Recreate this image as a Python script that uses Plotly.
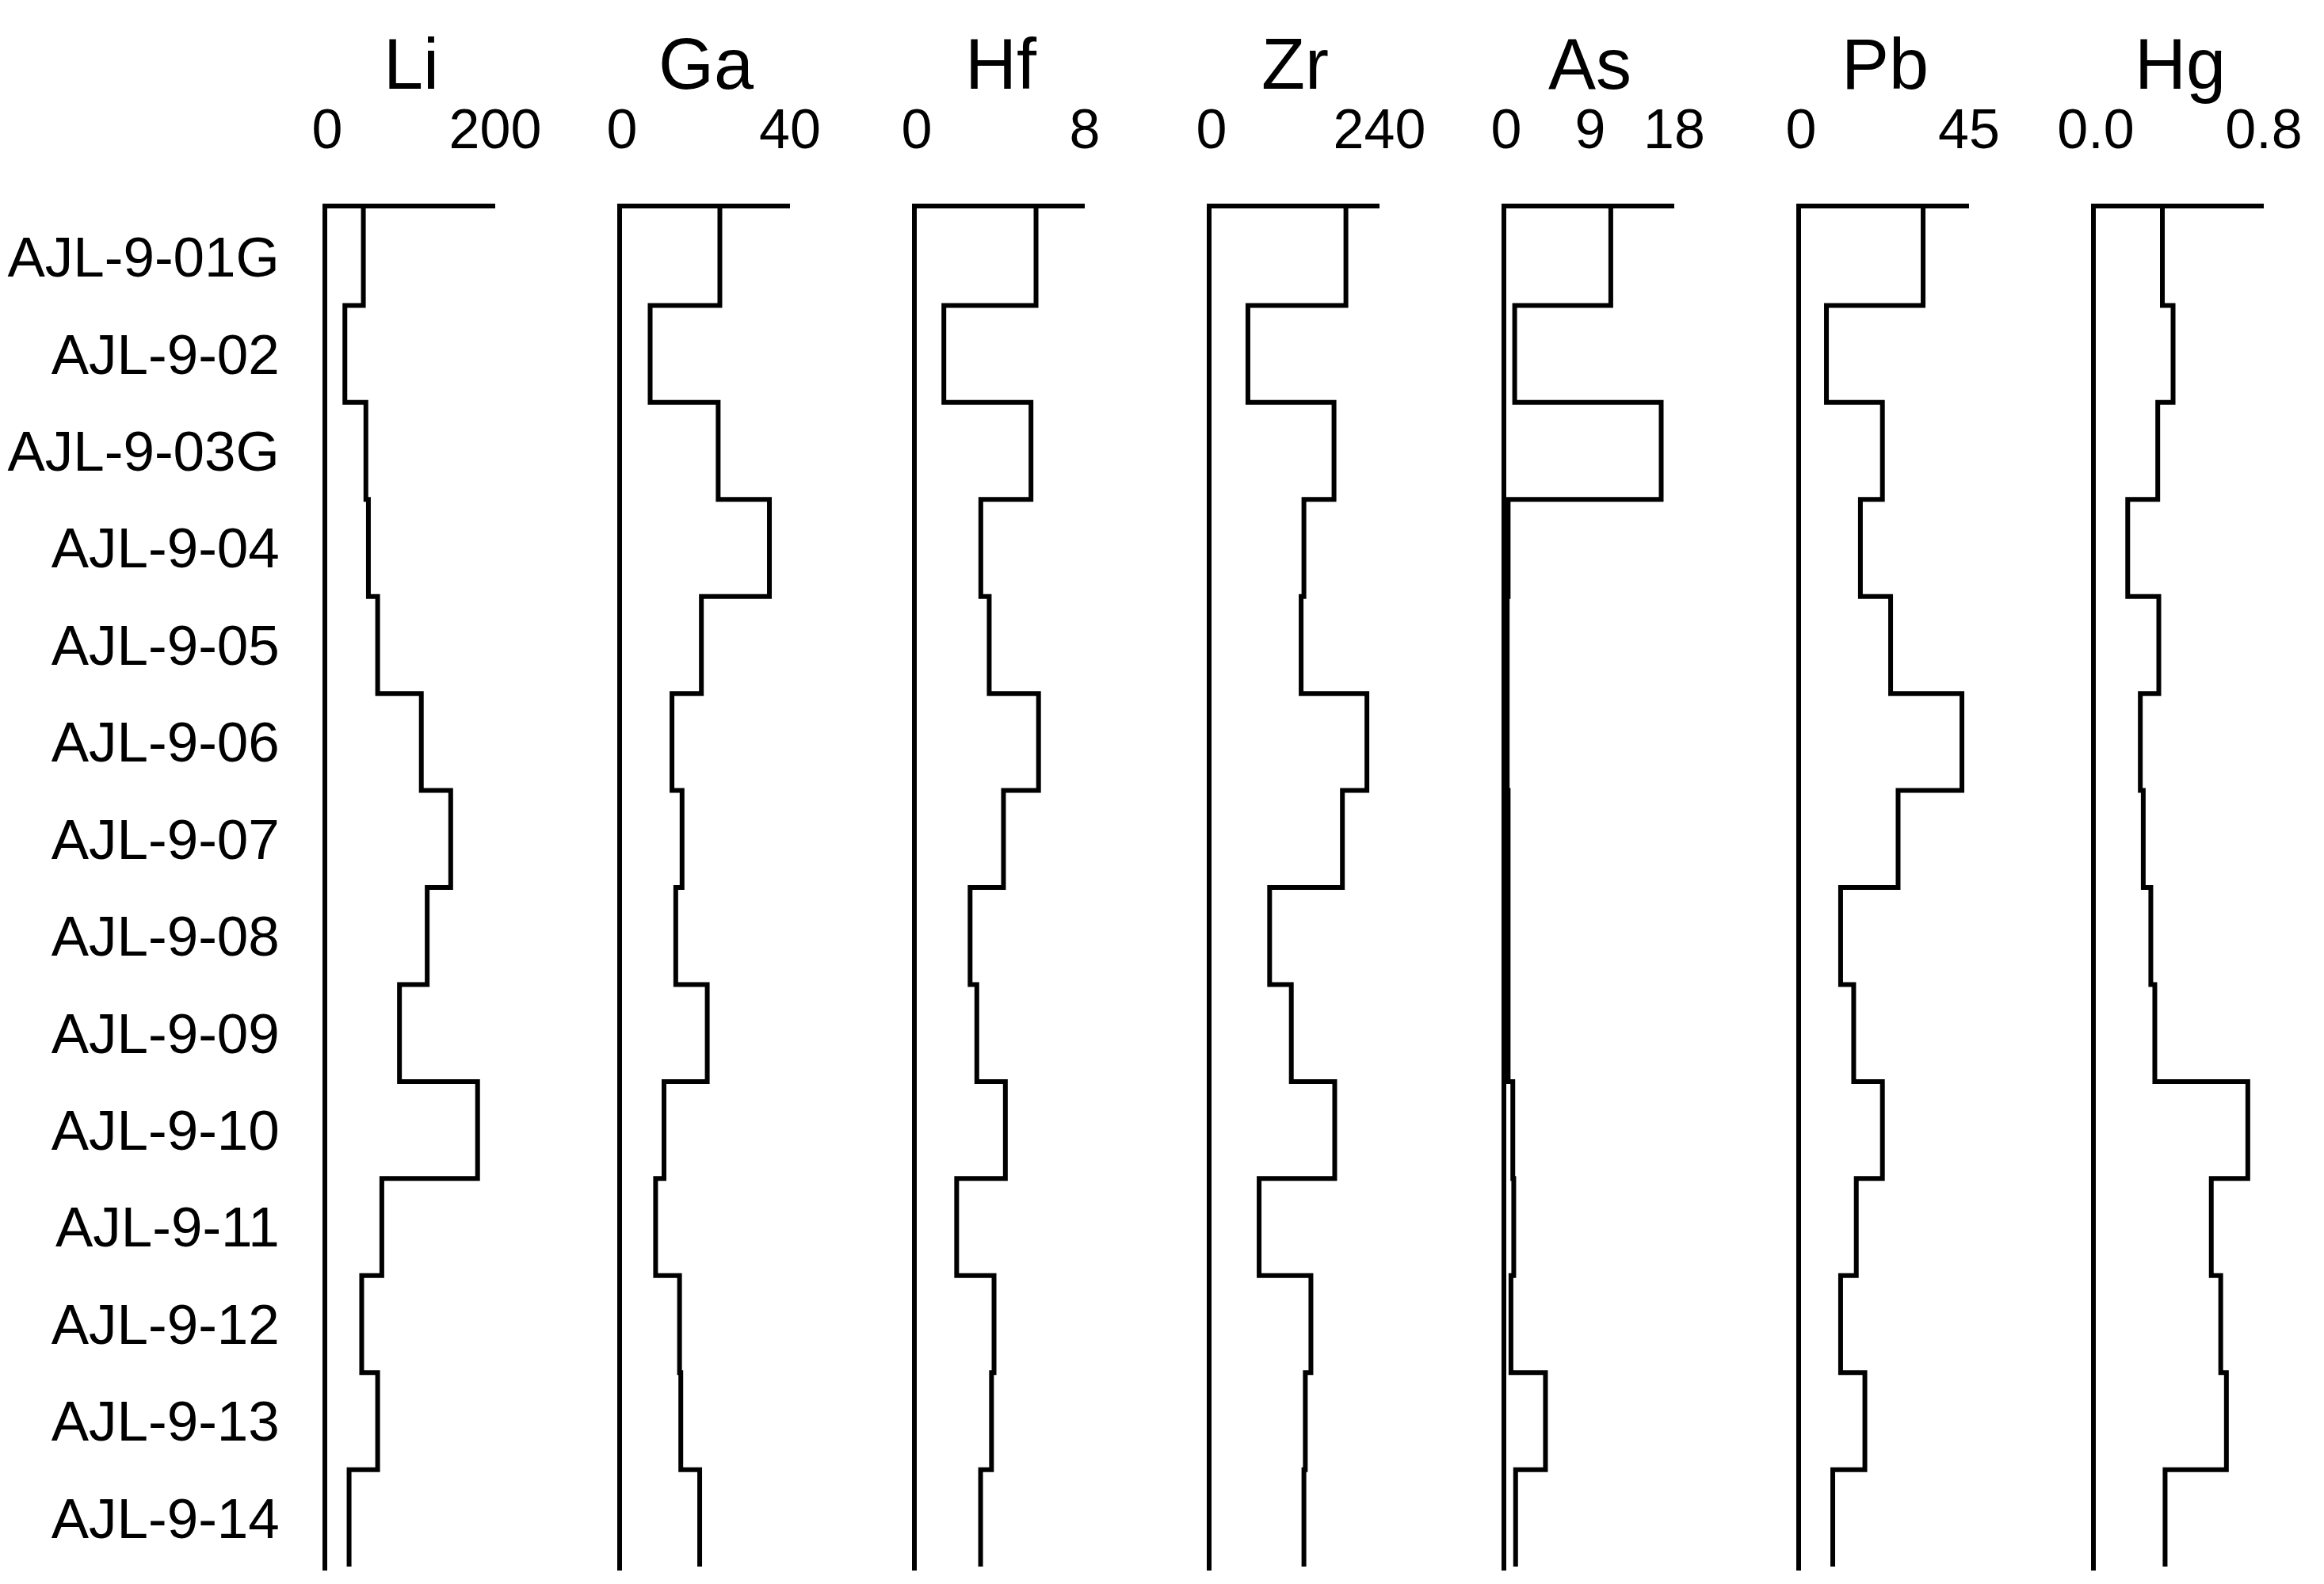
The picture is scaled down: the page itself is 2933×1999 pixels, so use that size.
import plotly.graph_objects as go

samples = ["AJL-9-01G", "AJL-9-02", "AJL-9-03G", "AJL-9-04", "AJL-9-05", "AJL-9-06",
           "AJL-9-07", "AJL-9-08", "AJL-9-09", "AJL-9-10", "AJL-9-11", "AJL-9-12",
           "AJL-9-13", "AJL-9-14"]

elements = ["Li", "Ga", "Hf", "Zr", "As", "Pb", "Hg"]

li = [43, 21, 46, 49, 60, 112, 147, 119, 86, 179, 65, 41, 60, 26]
ga = [23.3, 6.7, 22.9, 35.1, 18.9, 11.9, 14.3, 12.8, 20.3, 10.0, 8.0, 13.7, 14.0, 18.5]
hf = [5.68, 1.29, 5.44, 3.05, 3.45, 5.8, 4.13, 2.54, 2.86, 4.22, 1.9, 3.68, 3.56, 3.04]
zr = [192, 52, 175, 132, 128, 222, 187, 83, 114, 176, 68, 142, 134, 132]
as_ = [11.2, 0.9, 16.6, 0.2, 0.1, 0.1, 0.2, 0.2, 0.2, 0.7, 0.8, 0.5, 4.2, 1.0]
pb = [32.7, 6.8, 21.8, 15.9, 24.0, 43.1, 26.0, 10.6, 14.1, 21.8, 14.8, 10.6, 17.1, 8.5]
hg = [0.317, 0.368, 0.295, 0.152, 0.30, 0.212, 0.226, 0.262, 0.281, 0.724, 0.55, 0.595, 0.622, 0.33]

series = [li, ga, hf, zr, as_, pb, hg]
axis_max = [200, 40, 8, 240, 18, 45, 0.8]
tick_vals = [[0, 200], [0, 40], [0, 8], [0, 240], [0, 9, 18], [0, 45], [0, 0.8]]
tick_text = [["0", "200"], ["0", "40"], ["0", "8"], ["0", "240"], ["0", "9", "18"],
             ["0", "45"], ["0.0", "0.8"]]

W, H = 2933, 1999
FONT = "Liberation Sans, Arial, sans-serif"
n = len(samples)

fig = go.Figure()
layout = dict(
    width=W, height=H,
    margin=dict(l=0, r=0, t=0, b=0),
    paper_bgcolor="white", plot_bgcolor="white",
    showlegend=False,
    font=dict(family=FONT, color="black"),
)

plot_top_px = 255
plot_bot_px = 1974
ydom = [1 - plot_bot_px / H, 1 - plot_top_px / H]

annotations = []
for i, (name, vals) in enumerate(zip(elements, series)):
    k = "" if i == 0 else str(i + 1)
    x0 = 405 + 372 * i
    x1 = x0 + 212
    ys = list(range(n)) + [n]
    xs = list(vals) + [vals[-1]]
    fig.add_trace(go.Scatter(
        x=xs, y=ys, mode="lines", line=dict(color="black", width=6, shape="vh"),
        xaxis="x" + k, yaxis="y" + k, hoverinfo="skip", cliponaxis=False,
    ))
    layout["xaxis" + k] = dict(
        domain=[x0 / W, x1 / W], range=[0, axis_max[i]], side="top",
        anchor="y" + k, showgrid=False, zeroline=False,
        showline=True, linecolor="black", linewidth=6,
        tickmode="array", tickvals=tick_vals[i], ticktext=tick_text[i],
        ticks="", tickfont=dict(size=70, family=FONT, color="black"),
        ticklabelstandoff=42, automargin=False,
    )
    layout["yaxis" + k] = dict(
        domain=ydom, range=[n + 0.04, 0], anchor="x" + k,
        showgrid=False, zeroline=False,
        showline=True, linecolor="black", linewidth=6,
        ticks="", automargin=False,
        showticklabels=(i == 0),
        tickmode="array",
        tickvals=[j + 0.5 for j in range(n)], ticktext=samples,
        tickfont=dict(size=71, family=FONT, color="black"),
        ticklabelstandoff=40,
    )
    annotations.append(dict(
        text=name, xref="x" + k + " domain", x=0.5, yref="paper",
        y=1 - 73 / H, yanchor="middle", xanchor="center", showarrow=False,
        font=dict(size=90, family=FONT, color="black"),
    ))

layout["annotations"] = annotations
fig.update_layout(**layout)
fig.write_html("out.html")
